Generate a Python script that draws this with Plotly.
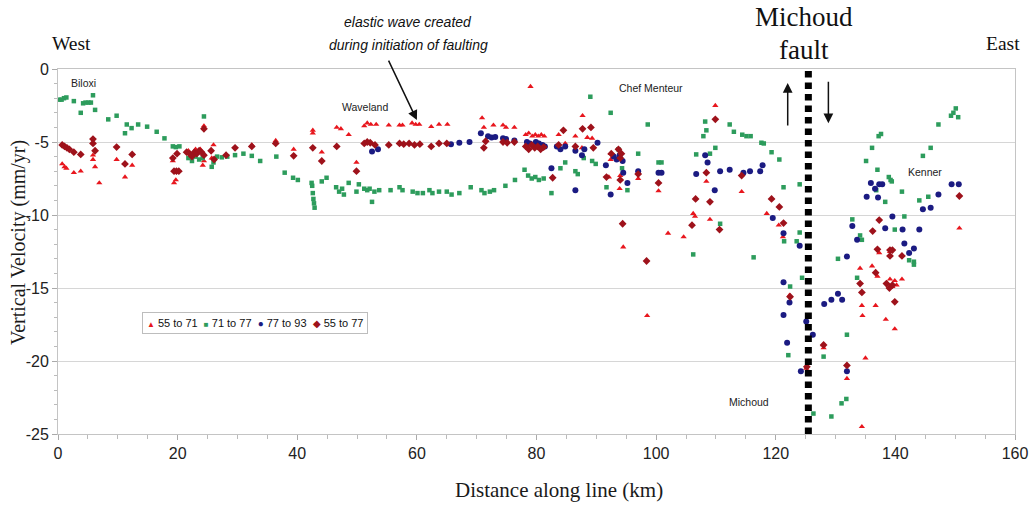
import plotly.graph_objects as go

# ---------------- data ----------------
series_names = ["55 to 71", "71 to 77", "77 to 93", "55 to 77"]

x_55_71 = [0.7, 1.1, 1.4, 2.65, 3.8, 5.85, 5.85, 6.2, 6.9, 9.8, 11.2, 12.4, 19.2, 19.4, 19.7, 21.8, 23.0, 23.8,
           24.4, 24.4, 24.2, 25.7, 26.0, 32.4, 36.4, 39.4,
           42.6, 42.6, 44.1, 46.6, 47.3, 48.6, 49.9, 51.2, 51.7, 52.3, 53.2, 55.3, 57.1, 57.6, 59.2, 59.8, 60.4,
           62.4, 63.7, 65.1, 70.9, 71.2, 72.8, 74.4, 74.9, 76.3, 78.2, 78.7, 79.0, 79.3, 79.8, 80.3, 80.8, 81.3,
           83.7, 84.8, 86.5, 87.7, 87.6, 88.5, 89.3, 92.1, 92.4, 92.4, 93.9, 94.0, 94.5, 97.0, 98.5, 100.4, 102.0,
           104.6, 106.2, 106.5, 108.4, 109.0, 109.9, 114.3, 118.5, 120.5, 121.2, 122.3, 125.1,
           127.9, 128.0, 131.9, 134.1, 134.4, 134.4, 134.5, 135.0, 136.1, 136.7, 137.0, 137.3, 138.4, 138.6,
           139.1, 139.5, 139.9, 140.2, 139.9, 141.1, 139.1, 150.7]
y_55_71 = [-6.5, -6.7, -6.8, -7.1, -7.0, -5.9, -6.2, -6.7, -7.8, -6.2, -7.4, -6.6, -6.3, -7.8, -7.6, -5.6, -5.5, -5.5,
           -3.9, -6.3, -6.6, -6.1, -5.2, -5.2, -4.9, -5.5,
           -4.2, -4.4, -5.7, -4.0, -4.1, -4.5, -6.4, -3.9, -3.7, -3.8, -3.8, -3.85, -3.85, -3.85, -3.7, -3.8, -3.8,
           -3.95, -3.8, -3.8, -3.35, -4.0, -3.85, -3.85, -4.0, -4.0, -4.5, -4.4, -1.2, -4.6, -4.5, -4.6, -4.5, -4.6,
           -4.5, -5.1, -4.6, -3.2, -5.4, -4.7, -4.75, -7.4, -5.8, -6.2, -8.2, -7.3, -12.2, -7.5, -16.9, -8.35, -11.25,
           -11.5, -9.9, -10.1, -7.7, -10.3, -2.5, -8.4, -9.9, -10.7, -11.5, -15.5, -20.5,
           -18.9, -19.1, -21.2, -13.65, -24.5, -16.2, -16.9, -19.8, -13.5, -16.2, -14.2, -12.6, -17.15, -14.7,
           -14.4, -14.9, -14.5, -14.8, -17.8, -14.4, -12.5, -10.9]

x_71_77 = [0.2, 0.6, 1.0, 1.4, 2.65, 3.8, 4.2, 4.6, 5.1, 5.5, 5.85, 6.2, 8.4, 9.8, 11.2, 11.5, 12.3, 13.4, 14.9,
           16.5, 17.8, 19.2, 19.7, 20.3, 24.4, 21.8, 22.4, 23.0, 23.6, 24.2, 25.7, 26.0, 26.6, 27.4, 28.3, 29.6,
           31.0, 32.4, 33.8, 36.5, 37.9, 39.3, 40.1,
           42.4, 42.5, 42.6, 42.7, 42.8, 42.9, 44.1, 44.9, 46.5, 47.0, 47.5, 47.8, 48.6, 49.9, 50.3, 51.2, 51.7,
           52.1, 52.9, 53.7, 52.5, 55.6, 57.1, 57.6, 59.3, 60.1, 61.0, 62.1, 62.6, 63.7, 65.0, 65.8, 67.1, 69.0,
           70.8, 71.3, 72.2, 72.9, 74.8, 76.4, 78.0, 78.6, 79.2, 79.8, 80.4, 81.2,
           82.5, 84.0, 84.8, 86.5, 86.9, 87.9, 89.0, 89.3, 89.9, 92.4, 93.7, 91.7, 94.3, 95.2, 97.0, 98.6, 100.4,
           100.9, 106.2, 106.7, 107.9, 108.4, 108.2, 109.0, 109.9, 110.7, 112.3, 113.0, 114.4, 115.1, 115.8,
           116.3, 117.6, 118.0, 119.3, 120.6, 121.3, 124.0, 121.4, 123.5, 124.0, 124.4, 122.4, 122.1, 126.3,
           128.0, 129.3, 130.4, 131.0, 131.8, 131.9, 132.8, 133.6, 134.1, 134.4, 135.1, 136.1, 137.2, 137.6,
           137.0, 136.8, 138.3, 138.9, 139.2, 139.4, 139.9, 141.1, 141.5, 142.3, 143.1, 143.1, 144.0, 144.6,
           145.5, 145.9, 147.2, 149.3, 149.7, 150.1, 150.5]
y_71_77 = [-2.1, -2.1, -2.0, -1.95, -2.2, -3.0, -2.35, -2.3, -2.3, -2.3, -1.8, -2.8, -3.45, -3.2, -4.4, -3.8, -4.05,
           -3.8, -3.95, -4.3, -4.75, -5.3, -5.35, -5.3, -3.25, -6.1, -6.3, -6.0, -6.2, -6.1, -6.7, -6.4, -6.0,
           -6.05, -6.0, -5.9, -5.8, -5.95, -6.3, -6.0, -7.1, -7.45, -7.6,
           -7.8, -8.0, -8.5, -8.9, -9.2, -9.5, -7.7, -7.45, -8.1, -8.4, -8.2, -8.6, -7.8, -8.4, -7.9, -8.2, -8.3,
           -8.2, -8.4, -8.3, -9.1, -8.3, -8.1, -8.3, -8.4, -8.5, -8.5, -8.3, -8.5, -8.4, -8.4, -8.6, -8.5, -8.1,
           -8.3, -8.5, -8.4, -8.3, -8.0, -7.6, -6.9, -7.3, -7.5, -7.4, -7.6, -7.5,
           -8.5, -6.8, -6.4, -7.0, -7.2, -6.1, -1.9, -6.3, -6.5, -3.0, -5.5, -8.1, -6.8, -8.3, -5.8, -3.8, -6.4,
           -6.4, -12.7, -5.85, -4.6, -4.2, -3.6, -5.8, -5.4, -10.6, -3.8, -4.3, -4.5, -4.6, -4.6,
           -12.9, -5.05, -5.1, -5.7, -6.2, -8.1, -7.9, -11.8, -11.8, -11.2, -14.3, -14.9, -19.6, -23.6,
           -19.7, -23.8, -13.0, -22.9, -22.6, -18.2, -10.3, -14.3, -11.4, -11.7, -6.3, -5.4, -4.6, -4.45,
           -6.9, -8.3, -9.1, -7.4, -7.6, -7.7, -11.0, -8.4, -10.1, -13.1, -13.4, -13.2, -9.0, -5.95,
           -8.75, -5.4, -3.8, -3.2, -3.0, -2.7, -3.3]

x_77_93 = [52.5, 53.5, 65.7, 67.1, 68.8, 70.7, 71.9, 72.5, 73.1, 74.4, 74.9, 76.3, 78.4, 78.9, 79.4, 79.9, 80.4,
           81.0, 81.4,
           82.5, 83.4, 84.0, 84.8, 86.5, 87.6, 88.0, 86.5, 90.2, 91.6, 92.4, 92.9, 93.4, 93.9, 94.4, 94.5, 95.2,
           97.0, 100.4, 100.9, 106.7, 108.2, 108.6, 109.8, 110.7, 112.3, 114.6, 115.7, 117.4, 117.8, 119.5,
           121.3, 124.0, 121.3, 122.3, 121.3, 121.9, 124.2, 125.1, 126.2, 128.1, 129.3, 130.4, 131.1, 131.9,
           131.9, 132.8, 133.6, 135.2, 135.9, 136.6, 137.1, 137.3, 137.8, 138.3, 139.5, 141.2, 141.5, 142.3,
           143.1, 144.0, 144.6, 145.9, 147.2, 149.4, 150.6]
y_77_93 = [-5.65, -5.5, -5.15, -5.05, -5.0, -4.4, -4.6, -4.7, -4.65, -4.75, -4.8, -4.9, -5.0, -5.1, -5.2, -5.0, -5.1,
           -5.2, -5.3,
           -6.8, -5.3, -5.5, -5.3, -5.6, -5.9, -5.5, -8.3, -5.05, -6.6, -8.6, -6.0, -6.2, -5.9, -6.3, -7.1, -7.8,
           -7.0, -7.1, -7.1, -7.2, -5.9, -6.4, -8.3, -7.0, -6.9, -7.1, -7.0, -7.0, -6.6, -10.2,
           -11.25, -12.1, -14.6, -16.0, -16.85, -18.75, -20.7, -17.3, -18.2, -16.1, -15.8, -15.4, -15.8, -12.85,
           -20.7, -10.75, -11.7, -8.75, -7.8, -8.2, -8.8, -7.9, -7.9, -10.9, -10.1, -11.0, -11.95, -12.6,
           -12.3, -11.0, -9.6, -9.5, -8.6, -7.9, -7.9]

x_55_77 = [0.7, 1.1, 1.5, 1.9, 2.65, 3.8, 5.85, 5.85, 6.2, 9.8, 11.2, 12.4, 19.2, 19.4, 19.8, 20.2, 19.9, 21.5,
           22.0, 22.4, 22.8, 23.2, 23.6, 24.0, 24.4, 24.4, 25.6, 26.1, 28.1, 29.6, 32.4, 36.4, 39.4,
           42.6, 44.1, 46.6, 49.9, 51.2, 51.7, 52.2, 53.0, 55.3, 57.1, 57.8, 58.7, 59.6, 60.5, 62.4, 63.7, 65.0,
           71.2, 71.5, 74.4, 75.1, 76.3, 78.2, 78.7, 79.2, 79.7, 80.2, 80.7, 81.2,
           82.7, 83.7, 84.5, 86.5, 87.7, 89.1, 89.5, 92.5, 91.7, 93.7, 94.0, 94.2, 94.0, 94.4, 97.0, 98.4, 100.4,
           106.6, 106.0, 108.4, 109.0, 109.9, 110.6, 114.3, 119.3, 120.6, 121.3, 122.4, 125.2, 128.0, 131.9,
           134.1, 134.4, 136.2, 136.7, 137.3, 137.0, 138.5, 139.0, 139.5, 139.1, 139.5, 139.1, 139.9, 141.1,
           150.7]
y_55_77 = [-5.2, -5.3, -5.4, -5.5, -5.7, -5.85, -4.8, -5.1, -5.6, -5.35, -6.5, -5.85, -6.1, -7.0, -7.0, -7.0, -5.8,
           -5.7, -5.8, -6.0, -5.7, -5.8, -5.6, -5.7, -4.1, -5.9, -5.6, -6.2, -5.9, -5.4, -5.3, -5.1, -5.95,
           -5.4, -6.3, -5.3, -7.0, -5.1, -5.0, -5.05, -5.2, -5.2, -5.1, -5.15, -5.1, -5.2, -5.15, -5.3, -5.1, -5.1,
           -5.4, -4.95, -5.0, -5.05, -5.0, -5.3, -5.5, -5.2, -5.4, -5.3, -5.5, -5.35,
           -7.45, -5.2, -4.2, -5.3, -4.1, -4.0, -5.4, -5.8, -7.4, -5.5, -6.1, -5.8, -7.6, -10.6, -7.2, -13.15,
           -7.8, -8.9, -10.7, -7.1, -9.1, -3.45, -11.0, -7.3, -8.9, -9.45, -10.55, -15.6, -20.4, -18.9, -20.3,
           -14.7, -15.3, -11.1, -13.95, -10.35, -12.35, -14.7, -15.0, -14.8, -12.4, -12.4, -12.8, -15.95, -12.8,
           -8.7]

x_tick_vals = [0, 20, 40, 60, 80, 100, 120, 140, 160]
y_tick_vals = [0, -5, -10, -15, -20, -25]
y_tick_text = ["0", "-5", "-10", "-15", "-20", "-25"]

fault_km = 125.45
place_labels = ["Biloxi", "Waveland", "Chef Menteur", "Kenner", "Michoud"]
place_x = [4.33, 51.4, 99.1, 144.9, 115.6]
place_y = [-0.98, -2.58, -1.32, -7.03, -22.8]

# ---------------- styling ----------------
SANS = "Liberation Sans, Arial, sans-serif"
SERIF = "Liberation Serif, Times New Roman, serif"
colors = ["#e8161d", "#2d9c5c", "#1b1b82", "#9e121b"]
symbols = ["triangle-up", "square", "circle", "diamond"]
sizes = [5.5, 4.5, 6, 6]
glyphs = ["\u25B2", "\u25A0", "\u25CF", "\u25C6"]
glyph_sizes = [8, 8, 10, 10]

fig = go.Figure()
xs = [x_55_71, x_71_77, x_77_93, x_55_77]
ys = [y_55_71, y_71_77, y_77_93, y_55_77]
for name, xv, yv, c, s, sz in zip(series_names, xs, ys, colors, symbols, sizes):
    fig.add_trace(go.Scatter(x=xv, y=yv, mode="markers", name=name, showlegend=False,
                             marker=dict(symbol=s, size=sz, color=c, line=dict(width=0))))

# fault line
fig.add_shape(type="line", xref="x", yref="paper", x0=fault_km, x1=fault_km, y0=0, y1=1,
              line=dict(color="black", width=7, dash="6.5px,5px"), layer="above")

ann = []
for t, px, py in zip(place_labels, place_x, place_y):
    ann.append(dict(x=px, y=py, xref="x", yref="y", text=t, showarrow=False,
                    xanchor="center", yanchor="middle",
                    font=dict(family=SANS, size=10.5, color="#222")))

# legend box (built as text)
parts = []
for g, gs, c, n in zip(glyphs, glyph_sizes, colors, series_names):
    parts.append('<span style="color:%s;font-size:%dpx">%s</span>\u00a0%s' % (c, gs, g, n))
legend_text = "\u00a0\u00a0".join(parts)
ann.append(dict(x=0.206, y=0.304, xref="paper", yref="paper", text=legend_text, showarrow=False,
                xanchor="center", yanchor="middle", bgcolor="white", bordercolor="#bdbdbd",
                borderwidth=1, borderpad=4, font=dict(family=SANS, size=11, color="#111")))


def ptxt(x, y, text, family, size, angle=0, color="#111"):
    return dict(x=x, y=y, xref="paper", yref="paper", text=text, showarrow=False,
                xanchor="center", yanchor="middle", textangle=angle,
                font=dict(family=family, size=size, color=color))


ann += [
    ptxt(0.0136, 1.071, "West", SERIF, 19.5),
    ptxt(0.987, 1.071, "East", SERIF, 19.5),
    ptxt(0.78, 1.142, "Michoud", SERIF, 27),
    ptxt(0.78, 1.052, "fault", SERIF, 27),
    ptxt(0.366, 1.129, "<i>elastic wave created</i>", SANS, 14),
    ptxt(0.366, 1.066, "<i>during initiation of faulting</i>", SANS, 14),
    ptxt(0.523, -0.153, "Distance along line (km)", SERIF, 21, color="#1a1a1a"),
    ptxt(-0.0418, 0.526, "Vertical Velocity (mm/yr)", SERIF, 20, -90, color="#1a1a1a"),
    # arrows
    dict(x=60.0, y=-3.5, xref="x", yref="y", ax=-29, ay=-61, text="", showarrow=True,
         arrowhead=2, arrowsize=1.3, arrowwidth=1.5, arrowcolor="#111"),
    dict(x=122.0, y=-0.96, xref="x", yref="y", ax=0, ay=44, text="", showarrow=True,
         arrowhead=2, arrowsize=1.3, arrowwidth=1.5, arrowcolor="#111"),
    dict(x=128.8, y=-3.72, xref="x", yref="y", ax=0, ay=-43, text="", showarrow=True,
         arrowhead=2, arrowsize=1.3, arrowwidth=1.5, arrowcolor="#111"),
]

fig.update_layout(
    width=1030, height=506, autosize=False,
    margin=dict(l=58, r=15, t=69, b=72, autoexpand=False),
    plot_bgcolor="white", paper_bgcolor="white",
    annotations=ann,
    xaxis=dict(range=[0, 160], tickvals=x_tick_vals, showgrid=False, zeroline=False, automargin=False,
               showline=True, linecolor="#c4c4c4", linewidth=1, mirror=True,
               ticks="outside", ticklen=5, tickcolor="#aaaaaa",
               tickfont=dict(family=SANS, size=16, color="#222"),
               minor=dict(dtick=5, ticks="outside", ticklen=4, tickcolor="#bbbbbb", showgrid=False)),
    yaxis=dict(range=[-25, 0], tickvals=y_tick_vals, ticktext=y_tick_text, showgrid=True, automargin=False,
               gridcolor="#d6d6d6", gridwidth=1, zeroline=False,
               showline=True, linecolor="#c4c4c4", linewidth=1, mirror=True,
               ticks="outside", ticklen=5, tickcolor="#aaaaaa",
               tickfont=dict(family=SANS, size=16, color="#222"),
               minor=dict(dtick=1, ticks="outside", ticklen=3, tickcolor="#bbbbbb", showgrid=False)),
)

fig.write_html("out.html", config={"displayModeBar": False, "responsive": False},
               post_script="document.body.style.margin='0px';document.body.style.overflow='hidden';")
